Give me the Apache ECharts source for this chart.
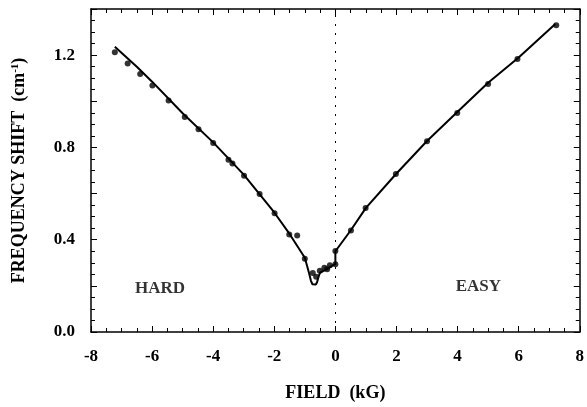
<!DOCTYPE html>
<html>
<head>
<meta charset="utf-8">
<script src="https://cdn.jsdelivr.net/npm/echarts@6/dist/echarts.min.js"></script>
<style>
  html, body { margin: 0; padding: 0; background: #fff; }
  #chart { width: 587px; height: 407px; }
</style>
</head>
<body>
<div id="chart"></div>
<script>
// measured points: field (kG), frequency shift (cm-1)
const dataField = [-7.22, -6.80, -6.39, -5.99, -5.46, -4.93, -4.48, -4.00, -3.50, -3.37, -2.99, -2.48,
  -1.99, -1.51, -1.25, -1.00, -0.74, -0.63, -0.51, -0.36, -0.27, -0.18, 0.00, 0.00,
  0.51, 0.99, 1.98, 3.00, 3.99, 5.00, 5.96, 7.23];
const dataShift = [1.212, 1.164, 1.118, 1.068, 1.003, 0.932, 0.879, 0.819, 0.747, 0.730, 0.677, 0.598,
  0.515, 0.423, 0.418, 0.318, 0.256, 0.240, 0.266, 0.278, 0.272, 0.289, 0.294, 0.351,
  0.440, 0.538, 0.685, 0.827, 0.949, 1.075, 1.183, 1.330];

// fitted curve
const fitField = [-7.22, -6.5, -6.0, -5.0, -4.0, -3.0, -2.0, -1.5, -1.0, -0.86, -0.80, -0.75, -0.70,
  -0.64, -0.60, -0.55, -0.50, -0.30, -0.10, 0.00, 0.00, 0.50, 1.00, 2.00, 3.00, 4.00, 5.00, 6.00, 7.20];
const fitShift = [1.236, 1.150, 1.085, 0.948, 0.822, 0.682, 0.518, 0.425, 0.322, 0.255, 0.222, 0.207, 0.203,
  0.206, 0.216, 0.240, 0.258, 0.270, 0.288, 0.294, 0.350, 0.440, 0.538, 0.687, 0.828, 0.955, 1.080, 1.190, 1.335];

const regionLabels = ['HARD', 'EASY'];
const regionField = [-5.74, 4.68];
const regionShift = [0.19, 0.197];

const FONT = 'Liberation Serif';
const chart = echarts.init(document.getElementById('chart'));

const tickStyle = { color: '#000', width: 1 };
const baseX = {
  type: 'value', min: -8, max: 8, interval: 2,
  axisLine: { show: true, onZero: false, lineStyle: { color: '#000', width: 1.5 } },
  axisTick: { show: true, inside: true, length: 6, lineStyle: tickStyle },
  minorTick: { show: true, splitNumber: 4, length: 4, lineStyle: tickStyle },
  splitLine: { show: false },
};
const baseY = {
  type: 'value', min: 0, max: 1.4, interval: 0.2,
  axisLine: { show: true, onZero: false, lineStyle: { color: '#000', width: 1.5 } },
  axisTick: { show: true, inside: true, length: 6, lineStyle: tickStyle },
  minorTick: { show: true, splitNumber: 4, length: 4, lineStyle: tickStyle },
  splitLine: { show: false },
};

chart.setOption({
  animation: false,
  backgroundColor: '#fff',
  grid: { left: 91, right: 2, top: 9, bottom: 72 },
  xAxis: [
    {
      ...baseX,
      position: 'bottom',
      name: 'FIELD  (kG)',
      nameLocation: 'middle',
      nameGap: 52,
      nameTextStyle: { fontFamily: FONT, fontWeight: 'bold', fontSize: 18, color: '#000' },
      axisLabel: {
        margin: 16, fontFamily: FONT, fontWeight: 'bold', fontSize: 17, color: '#000',
        formatter: (v) => String(v),
      },
    },
    { ...baseX, position: 'top', axisLabel: { show: false } },
  ],
  yAxis: [
    {
      ...baseY,
      position: 'left',
      name: 'FREQUENCY SHIFT  (cm{sup|-1})',
      nameLocation: 'middle',
      nameGap: 62,
      nameTextStyle: {
        fontFamily: FONT, fontWeight: 'bold', fontSize: 18, color: '#000',
        rich: { sup: { fontFamily: FONT, fontWeight: 'bold', fontSize: 11, color: '#000', verticalAlign: 'top', padding: [0, 0, 8, 0] } },
      },
      axisLabel: {
        margin: 16, fontFamily: FONT, fontWeight: 'bold', fontSize: 17, color: '#000',
        formatter: (v) => (Math.round(v * 10) % 4 === 0 ? v.toFixed(1) : ''),
      },
    },
    { ...baseY, position: 'right', axisLabel: { show: false } },
  ],
  series: [
    {
      name: 'fit',
      type: 'line',
      data: fitField.map((x, i) => [x, fitShift[i]]),
      showSymbol: false,
      lineStyle: { color: '#000', width: 2 },
      z: 2,
      markLine: {
        silent: true,
        symbol: 'none',
        label: { show: false },
        lineStyle: { color: '#000', width: 1, type: [2, 7] },
        data: [{ xAxis: 0 }],
      },
    },
    {
      name: 'data',
      type: 'scatter',
      data: dataField.map((x, i) => [x, dataShift[i]]),
      symbolSize: 6,
      itemStyle: { color: '#000' },
      z: 3,
    },
    {
      name: 'regions',
      type: 'scatter',
      data: regionField.map((x, i) => ({ value: [x, regionShift[i]], name: regionLabels[i] })),
      symbolSize: 0,
      label: {
        show: true, position: 'inside', formatter: (p) => p.name,
        fontFamily: FONT, fontWeight: 'bold', fontSize: 17, color: '#000',
      },
      z: 4,
    },
  ],
});
</script>
</body>
</html>
